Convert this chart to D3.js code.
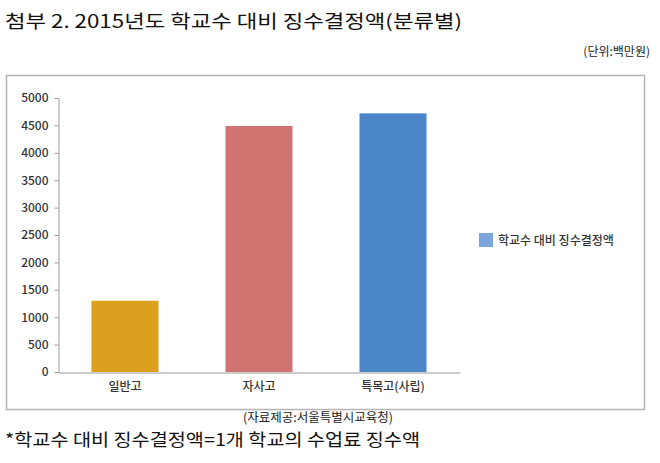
<!DOCTYPE html>
<html><head><meta charset="utf-8">
<script src="https://cdn.jsdelivr.net/npm/d3@7"></script>
<style>body{margin:0;background:#fff;}svg{display:block;}</style>
</head><body>
<svg id="c" width="660" height="463"></svg>
<script>
const categories = ["일반고", "자사고", "특목고(사립)"];
const values = [1300, 4490, 4720];
const barColors = ["#DBA01D", "#D07371", "#4A86C8"];
const yTicks = [0, 500, 1000, 1500, 2000, 2500, 3000, 3500, 4000, 4500, 5000];
const seriesName = "학교수 대비 징수결정액";
const titleText = "첨부 2. 2015년도 학교수 대비 징수결정액(분류별)";
const unitText = "(단위:백만원)";
const sourceText = "(자료제공:서울특별시교육청)";
const noteText = "*학교수 대비 징수결정액=1개 학교의 수업료 징수액";

const svg = d3.select("#c");
const serif = "'Noto Sans CJK KR', 'Noto Sans', sans-serif";
const sans = "'Noto Sans CJK KR', 'DejaVu Sans', sans-serif";

svg.append("text").attr("x", 5).attr("y", 28).attr("font-family", serif)
  .attr("font-size", 18).attr("font-weight", 400).attr("fill", "#111")
  .attr("textLength", 457).attr("lengthAdjust", "spacingAndGlyphs").text(titleText);
svg.append("text").attr("x", 650).attr("y", 56).attr("text-anchor", "end").attr("font-family", serif)
  .attr("font-size", 12).attr("font-weight", 400).attr("fill", "#222").text(unitText);

// chart box
svg.append("rect").attr("x", 6.5).attr("y", 75.5).attr("width", 638).attr("height", 334)
  .attr("fill", "#fff").attr("stroke", "#b5b5b5").attr("stroke-width", 1.5);

const x = d3.scaleBand().domain(categories).range([58, 460]).paddingInner(0.5).paddingOuter(0.25);
const y = d3.scaleLinear().domain([0, 5000]).range([372, 98]);

const yAxis = d3.axisLeft(y).tickValues(yTicks).tickFormat(d3.format("d")).tickSize(4).tickSizeOuter(0).tickPadding(6);
const gy = svg.append("g").attr("transform", "translate(58.5,0)").call(yAxis);
gy.select(".domain").attr("stroke", "#999");
gy.selectAll(".tick line").attr("stroke", "#999");
gy.selectAll(".tick text").attr("font-family", sans).attr("font-size", 12).attr("font-weight", 500).attr("fill", "#333");

const xAxis = d3.axisBottom(x).tickSize(0).tickSizeOuter(0).tickPadding(10);
const gx = svg.append("g").attr("transform", "translate(0,372.5)").call(xAxis);
gx.select(".domain").attr("stroke", "#999");
gx.selectAll(".tick text").attr("font-family", sans).attr("font-size", 12).attr("font-weight", 500).attr("fill", "#333");

svg.selectAll("rect.bar").data(values).enter().append("rect").attr("class", "bar")
  .attr("x", (d, i) => x(categories[i])).attr("width", x.bandwidth())
  .attr("y", d => y(d)).attr("height", d => y(0) - y(d))
  .attr("fill", (d, i) => barColors[i]);

// legend
svg.append("rect").attr("x", 479).attr("y", 233).attr("width", 14).attr("height", 14).attr("fill", "#7BA6DC");
svg.append("text").attr("x", 498).attr("y", 245).attr("font-family", sans).attr("font-size", 12)
  .attr("font-weight", 500).attr("fill", "#333").text(seriesName);

svg.append("text").attr("x", 243).attr("y", 422).attr("font-family", serif).attr("font-size", 12.5)
  .attr("font-weight", 400).attr("fill", "#222").text(sourceText);
svg.append("text").attr("x", 5).attr("y", 446).attr("font-family", serif).attr("font-size", 17)
  .attr("font-weight", 400).attr("fill", "#111").attr("textLength", 415).attr("lengthAdjust", "spacingAndGlyphs").text(noteText);
</script>
</body></html>
